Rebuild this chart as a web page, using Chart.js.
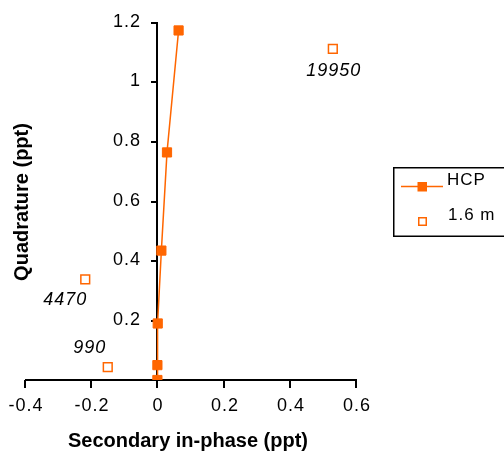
<!DOCTYPE html>
<html>
<head>
<meta charset="utf-8">
<script src="https://cdn.jsdelivr.net/npm/chart.js@4.4.0/dist/chart.umd.min.js"></script>
<style>
  html, body { margin: 0; padding: 0; background: #fff; }
  canvas { display: block; }
</style>
</head>
<body>
<canvas id="quadChart" width="504" height="456"></canvas>
<script>
// HCP curve
var hcpX = [0.0, 0.0, 0.001, 0.012, 0.029, 0.064];
var hcpY = [0.0, 0.05, 0.19, 0.435, 0.765, 1.175];
// 1.6 m field points and their labels
var siteX = [-0.15, -0.218, 0.53];
var siteY = [0.043, 0.338, 1.113];
var siteLabels = ['990', '4470', '19950'];
// axis ticks
var xTicks = [-0.4, -0.2, 0, 0.2, 0.4, 0.6];
var yTicks = [0.2, 0.4, 0.6, 0.8, 1, 1.2];

var orange = '#ff6600';
var font = '"Liberation Sans", Arial, sans-serif';

function toPoints(xs, ys) {
    return xs.map(function(x, i) { return {x: x, y: ys[i]}; });
}
function fmt(v) {
    return String(Number(v.toFixed(1)));
}

// label offsets for the 1.6 m points (px from the marker)
var labelOffsets = [[-18, -19], [-20, 21], [1, 22]];

// axes, titles, point labels and legend drawn by hand (Excel look)
var extrasPlugin = {
    id: 'extras',
    beforeDatasetsDraw: function(chart) {
        var ctx = chart.ctx;
        var xs = chart.scales.x, ys = chart.scales.y;
        var x0 = Math.round(xs.getPixelForValue(0));
        var yb = Math.round(ys.getPixelForValue(0));
        var yt = Math.round(ys.getPixelForValue(1.2));
        var xl = Math.round(xs.getPixelForValue(-0.4));
        var xr = Math.round(xs.getPixelForValue(0.6));
        ctx.save();
        ctx.fillStyle = '#000';
        // axis lines
        ctx.fillRect(xl, yb - 1, xr - xl + 1, 2);
        ctx.fillRect(x0 - 1, yt - 1, 2, yb - yt + 1);
        // x tick marks + labels
        ctx.letterSpacing = '1px';
        ctx.font = '18px ' + font;
        ctx.textAlign = 'center';
        ctx.textBaseline = 'middle';
        xTicks.forEach(function(v) {
            var px = Math.round(xs.getPixelForValue(v));
            ctx.fillRect(px - 1, yb, 2, 8);
            ctx.fillText(fmt(v), px + 1, yb + 26);
        });
        // y tick marks + labels
        ctx.textAlign = 'right';
        yTicks.forEach(function(v) {
            var py = Math.round(ys.getPixelForValue(v));
            ctx.fillRect(x0 - 6, py - 1, 6, 2);
            ctx.fillText(fmt(v), x0 - 16, py - 1);
        });
        ctx.restore();
    },
    afterDraw: function(chart) {
        var ctx = chart.ctx;
        var xs = chart.scales.x, ys = chart.scales.y;
        ctx.save();
        ctx.fillStyle = '#000';
        ctx.textBaseline = 'middle';

        // point labels
        ctx.letterSpacing = '1px';
        ctx.font = 'italic 18px ' + font;
        ctx.textAlign = 'center';
        siteLabels.forEach(function(t, i) {
            var px = xs.getPixelForValue(siteX[i]) + labelOffsets[i][0];
            var py = ys.getPixelForValue(siteY[i]) + labelOffsets[i][1];
            ctx.fillText(t, px, py);
        });

        // axis titles
        ctx.letterSpacing = '0px';
        ctx.font = 'bold 20px ' + font;
        ctx.fillText('Secondary in-phase (ppt)', 188, 441);
        ctx.translate(22, 202);
        ctx.rotate(-Math.PI / 2);
        ctx.fillText('Quadrature (ppt)', 0, 0);
        ctx.setTransform(1, 0, 0, 1, 0, 0);

        // legend
        var ds = chart.data.datasets;
        ctx.fillRect(393, 167, 112, 1.5);
        ctx.fillRect(393, 235.5, 112, 1.5);
        ctx.fillRect(393, 167, 1.5, 70);
        ctx.strokeStyle = orange;
        ctx.lineWidth = 1.5;
        ctx.beginPath();
        ctx.moveTo(401, 186.5);
        ctx.lineTo(443, 186.5);
        ctx.stroke();
        ctx.fillStyle = orange;
        ctx.fillRect(417.5, 182, 9.5, 9.5);
        ctx.fillStyle = '#fff';
        ctx.fillRect(418, 217, 9, 9);
        ctx.strokeRect(418.75, 217.75, 7.5, 7.5);
        ctx.fillStyle = '#000';
        ctx.letterSpacing = '1px';
        ctx.font = '17px ' + font;
        ctx.textAlign = 'left';
        ctx.fillText(ds[0].label, 447, 180);
        ctx.fillText(ds[1].label, 448, 215);
        ctx.restore();
    }
};

var ctx = document.getElementById('quadChart').getContext('2d');
var quadChart = new Chart(ctx, {
    type: 'scatter',
    data: {
        datasets: [{
            label: 'HCP',
            data: toPoints(hcpX, hcpY),
            showLine: true,
            borderColor: orange,
            backgroundColor: orange,
            borderWidth: 1.5,
            pointStyle: 'rect',
            pointRadius: 6.5,
            pointBorderWidth: 1,
            tension: 0
        }, {
            label: '1.6 m',
            data: toPoints(siteX, siteY),
            showLine: false,
            borderColor: orange,
            backgroundColor: '#fff',
            pointStyle: 'rect',
            pointRadius: 6.2,
            pointBorderWidth: 1.5
        }]
    },
    options: {
        responsive: false,
        animation: false,
        devicePixelRatio: 1,
        layout: {
            padding: {left: 25, right: 148, top: 23, bottom: 76}
        },
        scales: {
            x: {type: 'linear', min: -0.4, max: 0.6, display: false},
            y: {type: 'linear', min: 0, max: 1.2, display: false}
        },
        plugins: {
            legend: {display: false},
            tooltip: {enabled: false}
        }
    },
    plugins: [extrasPlugin]
});
</script>
</body>
</html>
